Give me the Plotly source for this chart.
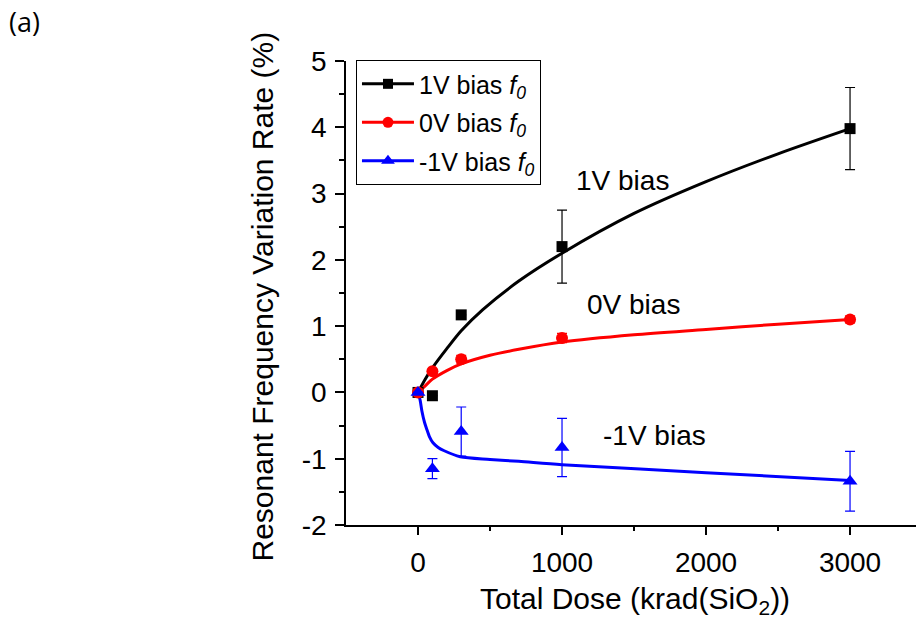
import plotly.graph_objects as go

# ---- data ----
dose = [0, 100, 300, 1000, 3000]
y_1v = [0, -0.05, 1.17, 2.2, 3.98]
e_1v = [0, 0, 0, 0.55, 0.62]
y_0v = [0, 0.32, 0.5, 0.82, 1.1]
e_0v = [0.03, 0.03, 0.06, 0.07, 0.05]
y_m1v = [0, -1.15, -0.59, -0.83, -1.34]
e_m1v = [0, 0.15, 0.37, 0.44, 0.45]

# fitted curves
fit_1v_x = [0, 50, 100, 200, 300, 450, 700, 1000, 1500, 2000, 2500, 3000]
fit_1v_y = [0, 0.2, 0.37, 0.66, 0.93, 1.25, 1.68, 2.1, 2.7, 3.18, 3.6, 3.98]
fit_0v_x = [0, 50, 100, 200, 300, 500, 700, 1000, 1500, 2000, 2500, 3000]
fit_0v_y = [0, 0.1, 0.2, 0.33, 0.43, 0.56, 0.65, 0.76, 0.87, 0.95, 1.03, 1.1]
fit_m1v_x = [0, 15, 27, 45, 60, 80, 104, 140, 182, 293, 500, 700, 1000, 2000, 3000]
fit_m1v_y = [0, -0.12, -0.28, -0.45, -0.55, -0.67, -0.76, -0.83, -0.88, -0.97, -1.01, -1.04, -1.09, -1.21, -1.33]

x_ticks = [0, 1000, 2000, 3000]
x_ticktext = ["0", "1000", "2000", "3000"]
y_ticks = [-2, -1, 0, 1, 2, 3, 4, 5]
y_ticktext = ["-2", "-1", "0", "1", "2", "3", "4", "5"]

x_title = "Total Dose (krad(SiO<sub>2</sub>))"
y_title = "Resonant Frequency Variation Rate (%)"

legend_names = ["1V bias <i>f</i><sub><i>0</i></sub>",
                "0V bias <i>f</i><sub><i>0</i></sub>",
                "-1V bias <i>f</i><sub><i>0</i></sub>"]
labels = ["1V bias", "0V bias", "-1V bias"]
label_x = [1417, 1493, 1645]
label_y = [3.2, 1.32, -0.65]

BLACK, RED, BLUE = "#000000", "#ff0000", "#0000ff"
FONT = "Arial"

fig = go.Figure()

# fit curves
for fx, fy, c in [(fit_1v_x, fit_1v_y, BLACK), (fit_0v_x, fit_0v_y, RED), (fit_m1v_x, fit_m1v_y, BLUE)]:
    fig.add_trace(go.Scatter(x=fx, y=fy, mode="lines", line=dict(color=c, width=3, shape="spline", smoothing=0.8),
                             showlegend=False, hoverinfo="skip"))

# data markers with error bars
for yy, ee, c, sym, sz in [(y_1v, e_1v, BLACK, "square", 11),
                           (y_0v, e_0v, RED, "circle", 12),
                           (y_m1v, e_m1v, BLUE, "triangle-up", 13)]:
    fig.add_trace(go.Scatter(x=dose, y=yy, mode="markers",
                             marker=dict(color=c, symbol=sym, size=sz, line=dict(width=0)),
                             error_y=dict(type="data", array=ee, visible=True, color=c, thickness=1.2, width=5),
                             showlegend=False))

# legend entries
for i, (name, c, sym, sz) in enumerate([(legend_names[0], BLACK, "square", 10),
                                         (legend_names[1], RED, "circle", 11),
                                         (legend_names[2], BLUE, "triangle-up", 12)]):
    fig.add_trace(go.Scatter(x=[None], y=[None], mode="lines+markers", name=name,
                             line=dict(color=c, width=3), marker=dict(color=c, symbol=sym, size=sz),
                             legendgroup=f"g{i}"))

for t, xx, yy in zip(labels, label_x, label_y):
    fig.add_annotation(x=xx, y=yy, text=t, showarrow=False, font=dict(size=28, color="black", family=FONT))

# axis titles placed as annotations
fig.add_annotation(xref="paper", yref="paper", x=0.507, y=-0.162, text=x_title, showarrow=False,
                   xanchor="center", yanchor="middle", font=dict(size=30, color="black", family=FONT))
fig.add_annotation(xref="paper", yref="paper", x=-0.1465, y=0.4935, text=y_title, showarrow=False,
                   textangle=-90, xanchor="center", yanchor="middle",
                   font=dict(size=30, color="black", family=FONT))

fig.add_annotation(xref="paper", yref="paper", x=-0.595, y=1.085, text="(a)", showarrow=False,
                   xanchor="left", yanchor="middle", font=dict(size=27, color="black", family="Open Sans"))

fig.update_layout(
    width=916, height=628,
    margin=dict(l=346, r=0, t=61, b=103),
    paper_bgcolor="white", plot_bgcolor="white",
    font=dict(family=FONT, color="black", size=28),
    legend=dict(x=0.0175, y=1.002, xanchor="left", yanchor="top",
                bordercolor="black", borderwidth=1, bgcolor="white",
                font=dict(size=25, family=FONT), tracegroupgap=3, traceorder="grouped",
                itemwidth=52),
    xaxis=dict(range=[-500, 3458], showgrid=False, zeroline=False,
               showline=True, linecolor="black", linewidth=1.5,
               ticks="outside", ticklen=8, tickwidth=1.5, tickcolor="black",
               tickvals=x_ticks, ticktext=x_ticktext, ticklabelstandoff=4,
               tickfont=dict(size=28, family=FONT, color="black"),
               minor=dict(ticks="outside", ticklen=4, tickwidth=1.5, tickcolor="black",
                          tickvals=[500, 1500, 2500])),
    yaxis=dict(range=[-2, 5], showgrid=False, zeroline=False,
               showline=True, linecolor="black", linewidth=1.5,
               ticks="outside", ticklen=9, tickwidth=1.5, tickcolor="black",
               tickvals=y_ticks, ticktext=y_ticktext, ticklabelstandoff=3,
               tickfont=dict(size=28, family=FONT, color="black"),
               minor=dict(ticks="outside", ticklen=5, tickwidth=1.5, tickcolor="black", dtick=0.5)),
)

fig.write_html("out.html")
